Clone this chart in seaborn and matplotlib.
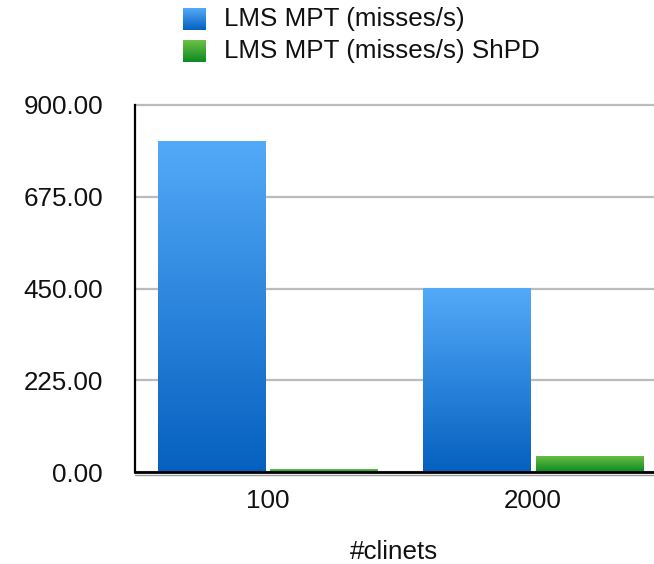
import numpy as np
import pandas as pd
import matplotlib
matplotlib.use("Agg")
import matplotlib.pyplot as plt
from matplotlib.colors import LinearSegmentedColormap
from matplotlib.lines import Line2D
import seaborn as sns

# Data
clients = ["100", "2000"]
series_names = ["LMS MPT (misses/s)", "LMS MPT (misses/s) ShPD"]
mpt_values = [811.0, 451.0]
shpd_values = [7.0, 40.0]
y_ticks = [0, 225, 450, 675, 900]
x_label = "#clinets"

# Gradient colours (top, bottom) per series
grad_colors = {
    series_names[0]: ("#54AAF9", "#0560BF"),
    series_names[1]: ("#6EC046", "#0C8A22"),
}

df = pd.DataFrame({
    "clients": clients * 2,
    "series": [series_names[0]] * len(clients) + [series_names[1]] * len(clients),
    "value": mpt_values + shpd_values,
})

sns.set_theme(style="white")
plt.rcParams["font.family"] = ["Liberation Sans", "DejaVu Sans"]

W, H = 654, 564
fig = plt.figure(figsize=(W / 100, H / 100), dpi=100)
ax = fig.add_axes([135 / W, 1 - 472 / H, (654 - 135) / W, (472 - 105) / H])

palette = {k: v[1] for k, v in grad_colors.items()}
sns.barplot(data=df, x="clients", y="value", hue="series", palette=palette,
            width=0.85, gap=0.05, ax=ax, legend=False, saturation=1.0)

ax.set_xlim(-0.5, 1.456)
ax.set_ylim(0, 900)
ax.set_yticks(y_ticks)
ax.set_yticklabels([f"{v:.2f}" for v in y_ticks])
ax.tick_params(axis="both", length=0, labelsize=18.7, colors="#111111")
ax.tick_params(axis="y", pad=23)
ax.tick_params(axis="x", pad=12)
ax.set_xlabel(x_label, fontsize=18.7, labelpad=20, color="#111111")
ax.set_ylabel("")

ax.yaxis.grid(True, color="#BBBBBB", linewidth=1.6)
ax.set_axisbelow(True)
for gl in ax.get_ygridlines():
    gl.set_clip_on(False)

for side in ["top", "right"]:
    ax.spines[side].set_visible(False)
ax.spines["left"].set_color("black")
ax.spines["left"].set_linewidth(1.6)
ax.spines["bottom"].set_color("black")
ax.spines["bottom"].set_linewidth(2.0)
ax.spines["bottom"].set_zorder(5)

# Vertical gradient fill on each bar
grad = np.linspace(0, 1, 256).reshape(-1, 1)
order = [series_names[0]] * len(clients) + [series_names[1]] * len(clients)
for patch, name in zip(ax.patches, order):
    x0, y0 = patch.get_x(), patch.get_y()
    w, h = patch.get_width(), patch.get_height()
    top, bottom = grad_colors[name]
    cmap = LinearSegmentedColormap.from_list(name, [top, bottom])
    im = ax.imshow(grad, cmap=cmap, aspect="auto",
                   extent=[x0, x0 + w, y0, y0 + h], origin="upper", zorder=3)
    im.set_clip_path(patch)
    patch.set_edgecolor("none")
ax.set_xlim(-0.5, 1.456)
ax.set_ylim(0, 900)

# Soft shadow under the baseline
fig.add_artist(Line2D([135 / W, 1.0], [1 - 474.5 / H] * 2, color="#999999",
                      linewidth=1.0, transform=fig.transFigure))

# Legend with gradient swatches
for i, name in enumerate(series_names):
    cy = 19 + 32 * i
    sw = fig.add_axes([183 / W, 1 - (cy + 11) / H, 23 / W, 22 / H])
    top, bottom = grad_colors[name]
    cmap = LinearSegmentedColormap.from_list(name + "_leg", [top, bottom])
    sw.imshow(grad, cmap=cmap, aspect="auto")
    sw.set_axis_off()
    fig.text(224 / W, 1 - cy / H, name, fontsize=18.7, va="center", ha="left",
             color="#111111")

fig.savefig("out.png", dpi=100)
